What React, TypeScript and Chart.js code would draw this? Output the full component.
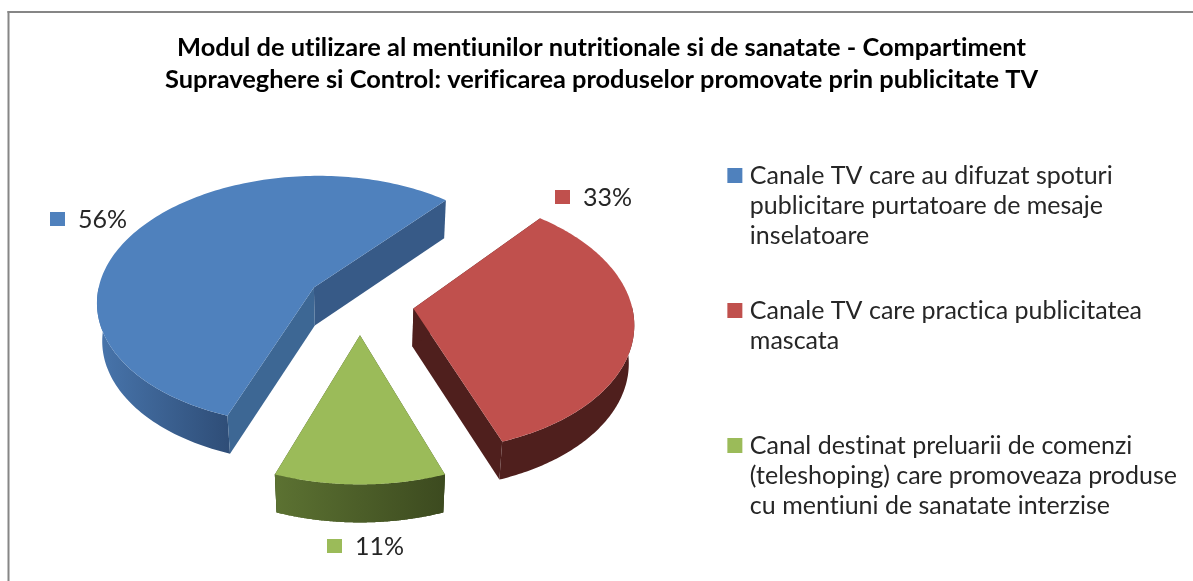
import React, { useEffect, useRef } from "react";
import { Chart, registerables } from "chart.js";

Chart.register(...registerables);

const titleLines = [
  "Modul de utilizare al mentiunilor nutritionale si de sanatate - Compartiment",
  "Supraveghere si Control: verificarea produselor promovate prin publicitate TV",
];
const categories = [
  "Canale TV care au difuzat spoturi publicitare purtatoare de mesaje inselatoare",
  "Canale TV care practica publicitatea mascata",
  "Canal destinat preluarii de comenzi (teleshoping) care promoveaza produse cu mentiuni de sanatate interzise",
];
const legendLines = [
  ["Canale TV care au difuzat spoturi", "publicitare purtatoare de mesaje", "inselatoare", ""],
  ["Canale TV care practica publicitatea", "mascata", "", ""],
  ["Canal destinat preluarii de comenzi", "(teleshoping) care promoveaza produse", "cu mentiuni de sanatate interzise"],
];
const shares = [55.6, 33.3, 11.1];

const topColors = ["#4F81BD", "#C0504D", "#9BBB59"];
const rimFrom = ["#4875AC", "#4F1F1D", "#5C7232"];
const rimTo = ["#2F4E78", "#4F1F1D", "#3C4A1F"];
const faceColors = ["#3D6794", "#4F1F1D", "#3C4A1F"];
const backFaceColors = ["#375A87", "#4F1F1D", "#3C4A1F"];
const labelBoxes = [
  { x: 50, y: 219 },
  { x: 555, y: 197 },
  { x: 327, y: 546 },
];

const FONT = "Lato";
const TEXT = "#262626";
const VIEW = { x: 360, y: 303, tilt: 0.58, persp: 0.00048, depth: 38, base: 0.98 };

const pie3d = {
  id: "pie3d",
  beforeDraw(chart: any) {
    const { ctx, width, height } = chart;
    (ctx as any).textRendering = "optimizeSpeed";
    ctx.save();
    ctx.fillStyle = "#868686";
    ctx.fillRect(7.5, 11, width - 7.5, 2);
    ctx.fillRect(7.5, 11, 2, height - 11);
    ctx.restore();
  },
  beforeDatasetsDraw(chart: any) {
    const { ctx } = chart;
    const arcs = chart.getDatasetMeta(0).data;
    const project = (u: number, v: number) => {
      const s = 1 / (1 - VIEW.persp * v);
      return { x: VIEW.x + u * s, y: VIEW.y + VIEW.tilt * v * s };
    };
    const lower = (p: { x: number; y: number }) => ({
      x: VIEW.x + (p.x - VIEW.x) * VIEW.base,
      y: p.y + VIEW.depth,
    });
    arcs.forEach((arc: any, i: number) => {
      const { startAngle, endAngle, outerRadius } = arc;
      const half = (startAngle + endAngle) / 2;
      const off = (arc.options.offset || 0) / 4;
      const ou = Math.cos(half) * off;
      const ov = Math.sin(half) * off;
      const apex = project(ou, ov);
      const n = 160;
      const rim: { x: number; y: number }[] = [];
      const front: { x: number; y: number }[] = [];
      for (let k = 0; k <= n; k++) {
        const t = startAngle + ((endAngle - startAngle) * k) / n;
        const p = project(ou + Math.cos(t) * outerRadius, ov + Math.sin(t) * outerRadius);
        rim.push(p);
        if (Math.sin(t) > -0.02) front.push(p);
      }
      const xs = front.map((p) => p.x);
      const grad = ctx.createLinearGradient(Math.min(...xs), 0, Math.max(...xs), 0);
      grad.addColorStop(0, rimFrom[i]);
      grad.addColorStop(1, rimTo[i]);
      const wall = () => {
        ctx.beginPath();
        front.forEach((p, k) => (k ? ctx.lineTo(p.x, p.y) : ctx.moveTo(p.x, p.y)));
        for (let k = front.length - 1; k >= 0; k--) {
          const l = lower(front[k]);
          ctx.lineTo(l.x, l.y);
        }
        ctx.closePath();
        ctx.fillStyle = grad;
        ctx.fill();
      };
      const face = (a: any, b: any, color: any) => {
        const la = lower(a);
        const lb = lower(b);
        ctx.beginPath();
        ctx.moveTo(a.x, a.y);
        ctx.lineTo(b.x, b.y);
        ctx.lineTo(lb.x, lb.y);
        ctx.lineTo(la.x, la.y);
        ctx.closePath();
        ctx.fillStyle = color;
        ctx.fill();
      };
      ctx.save();
      wall();
      face(apex, rim[n], backFaceColors[i]);
      face(apex, rim[0], faceColors[i]);
      // the wedge pointing at the viewer hides its cut faces behind the wall
      if (i === 2) wall();
      ctx.beginPath();
      ctx.moveTo(apex.x, apex.y);
      rim.forEach((p) => ctx.lineTo(p.x, p.y));
      ctx.closePath();
      ctx.fillStyle = arc.options.backgroundColor;
      ctx.fill();
      ctx.restore();
    });
    return false;
  },
  afterDraw(chart: any) {
    const { ctx } = chart;
    ctx.save();
    ctx.font = `25px ${FONT}`;
    ctx.textBaseline = "middle";
    ctx.textAlign = "left";
    shares.forEach((value, i) => {
      const b = labelBoxes[i];
      ctx.fillStyle = topColors[i];
      ctx.fillRect(b.x, b.y - 7, 15, 14);
      ctx.fillStyle = TEXT;
      ctx.fillText(`${Math.round(value)}%`, b.x + 28, b.y + 1);
    });
    ctx.restore();
  },
};

export default function App() {
  const ref = useRef<HTMLCanvasElement>(null);
  useEffect(() => {
    const chart = new Chart(ref.current as HTMLCanvasElement, {
      type: "pie",
      data: {
        labels: categories,
        datasets: [
          {
            data: shares,
            backgroundColor: topColors,
            borderWidth: 0,
            offset: 216,
          },
        ],
      },
      options: {
        animation: false,
        responsive: false,
        rotation: 200,
        radius: 218,
        layout: { padding: { left: 16, right: 6, top: 0, bottom: 0 } },
        plugins: {
          tooltip: { enabled: false },
          title: {
            display: true,
            text: titleLines,
            color: "#000000",
            font: { family: FONT, size: 25.4, weight: "bold", lineHeight: 32 / 25.4 },
            padding: { top: 32, bottom: 52 },
          },
          legend: {
            position: "right",
            align: "start",
            fullSize: false,
            onClick: () => {},
            labels: {
              color: TEXT,
              font: { family: FONT, size: 25, lineHeight: 30 / 25 },
              padding: 15,
              boxWidth: 5,
              boxHeight: 5,
              generateLabels: () =>
                legendLines.map((lines, i) => ({
                  text: lines,
                  fillStyle: topColors[i],
                  strokeStyle: topColors[i],
                  lineWidth: 10,
                  hidden: false,
                  index: i,
                  fontColor: TEXT,
                })),
            },
          },
        },
      },
      plugins: [pie3d],
    } as any);
    return () => chart.destroy();
  }, []);
  return (
    <div style={{ position: "fixed", left: 0, top: 0, width: 1193, height: 581, background: "#fff", overflow: "hidden" }}>
      <canvas ref={ref} width={1193} height={581} style={{ display: "block", filter: "blur(0.4px)" }} />
    </div>
  );
}
